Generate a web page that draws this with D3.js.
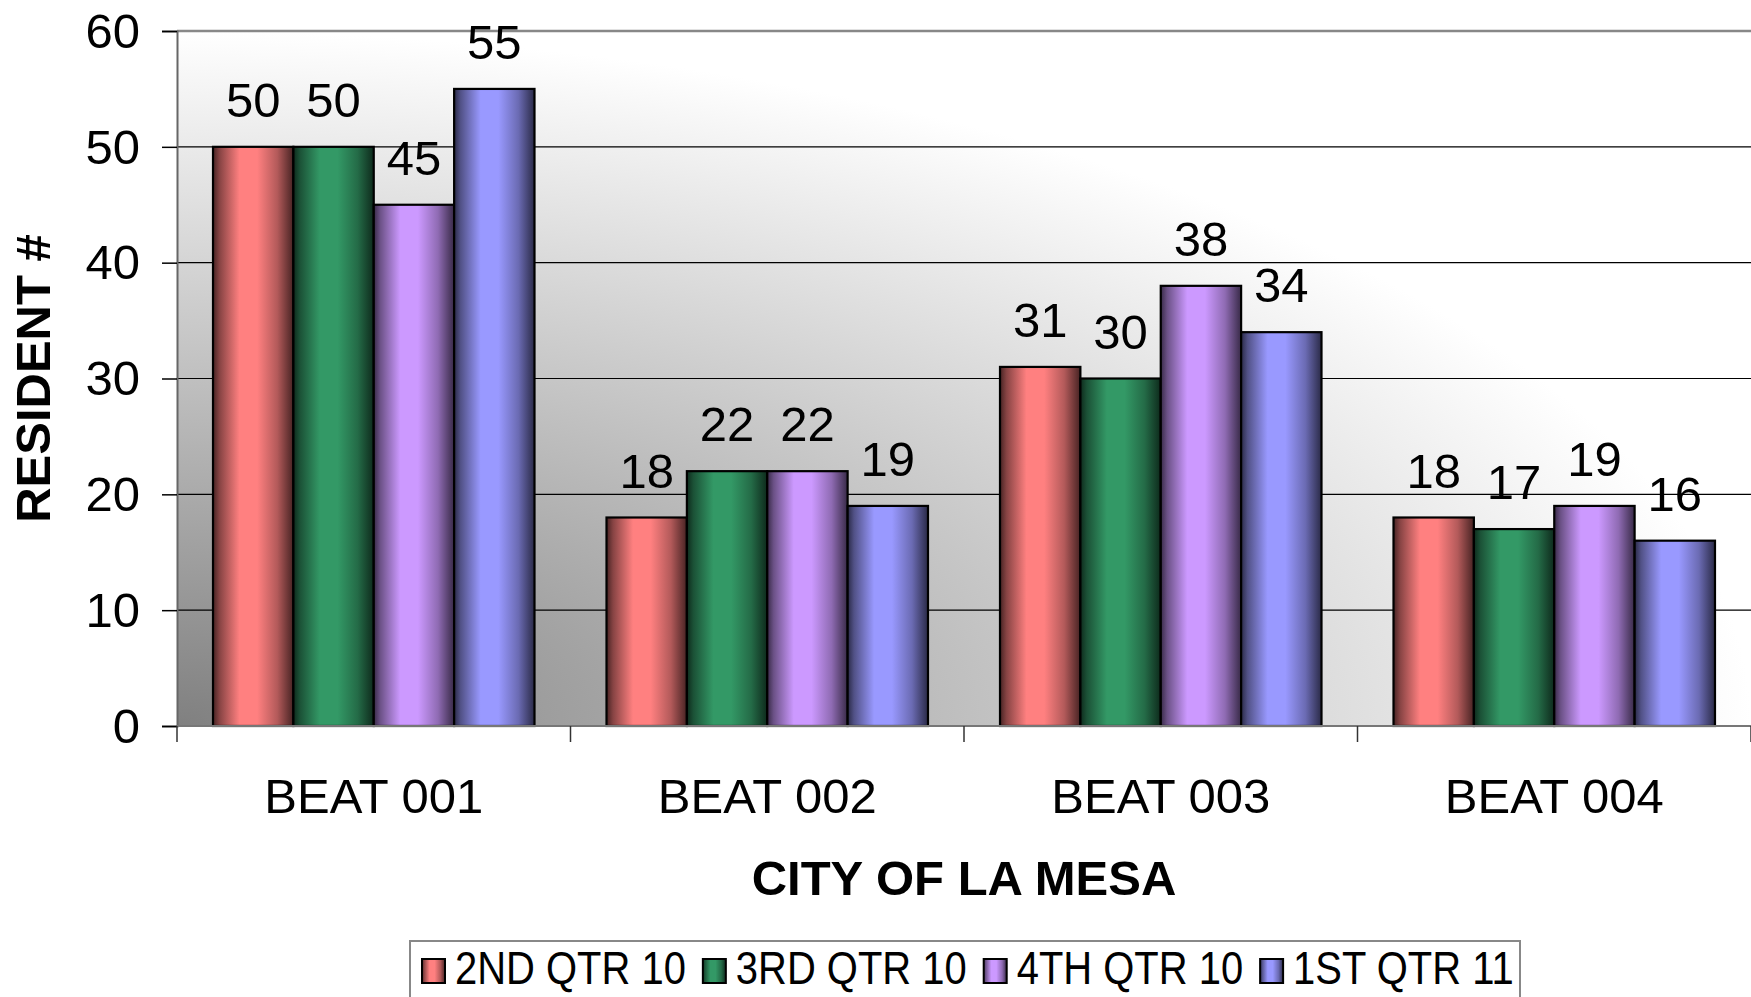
<!DOCTYPE html>
<html>
<head>
<meta charset="utf-8">
<script src="https://cdn.jsdelivr.net/npm/d3@7"></script>
<style>
  html, body { margin: 0; padding: 0; background: #fff; }
  svg { display: block; font-family: "Liberation Sans", Arial, sans-serif; }
</style>
</head>
<body>
<div id="chart"></div>
<script>
const beats = ['BEAT 001', 'BEAT 002', 'BEAT 003', 'BEAT 004'];
const quarters = ['2ND QTR 10', '3RD QTR 10', '4TH QTR 10', '1ST QTR 11'];
const qtr2_10 = [50, 18, 31, 18];
const qtr3_10 = [50, 22, 30, 17];
const qtr4_10 = [45, 22, 38, 19];
const qtr1_11 = [55, 19, 34, 16];
const yTicks = [0, 10, 20, 30, 40, 50, 60];
const colors = ['#ff8080', '#339966', '#cc99ff', '#9999ff'];

const series = [qtr2_10, qtr3_10, qtr4_10, qtr1_11];

const width = 1751, height = 997;
const margin = { top: 31, right: 0, bottom: 271, left: 177 };

const svg = d3.select('#chart').append('svg')
  .attr('width', width)
  .attr('height', height);

const defs = svg.append('defs');

// plot background: dark in bottom-left corner fading to white
const bg = defs.append('radialGradient')
  .attr('id', 'bg')
  .attr('cx', 0).attr('cy', 1).attr('r', 1)
  .attr('fx', 0).attr('fy', 1);
bg.append('stop').attr('offset', '0%').attr('stop-color', '#808080');
bg.append('stop').attr('offset', '100%').attr('stop-color', '#ffffff');

colors.forEach((c, i) => {
  const g = defs.append('linearGradient')
    .attr('id', 'bar' + i)
    .attr('x1', 0).attr('x2', 1).attr('y1', 0).attr('y2', 0);
  const col = d3.color(c);
  [[0, col.darker(3.6)], [0.08, col.darker(1.8)], [0.33, col], [0.55, col],
   [0.8, col.darker(1)], [1, col.darker(3.6)]].forEach(s => {
    g.append('stop').attr('offset', s[0]).attr('stop-color', s[1].formatHex());
  });
});

const x0 = d3.scaleBand()
  .domain(beats)
  .range([margin.left, width - margin.right])
  .paddingInner(0.183)
  .paddingOuter(0.0915);

const x1 = d3.scaleBand()
  .domain(quarters)
  .range([0, x0.bandwidth()]);

const y = d3.scaleLinear()
  .domain([0, 60])
  .range([height - margin.bottom, margin.top]);

const plotW = width - margin.right - margin.left;
const plotH = y(0) - y(60);

svg.append('rect')
  .attr('x', margin.left).attr('y', y(60))
  .attr('width', plotW).attr('height', plotH)
  .attr('fill', 'url(#bg)');

// gridlines
svg.append('g')
  .selectAll('line')
  .data(yTicks.filter(d => d > 0 && d < 60))
  .join('line')
  .attr('x1', margin.left).attr('x2', width - margin.right)
  .attr('y1', d => y(d)).attr('y2', d => y(d))
  .attr('stroke', '#000').attr('stroke-width', 1.2);

// top border
svg.append('line')
  .attr('x1', margin.left).attr('x2', width)
  .attr('y1', y(60)).attr('y2', y(60))
  .attr('stroke', '#888').attr('stroke-width', 2.5);

// y axis
const yAxis = svg.append('g')
  .attr('transform', `translate(${margin.left},0)`)
  .call(d3.axisLeft(y).tickValues(yTicks).tickSize(15).tickPadding(22));
yAxis.select('.domain').attr('stroke', '#666').attr('stroke-width', 2);
yAxis.selectAll('.tick line').attr('stroke', '#000').attr('stroke-width', 1.5);
yAxis.selectAll('text')
  .attr('font-size', 49).attr('fill', '#000')
  .attr('font-family', '"Liberation Sans", Arial, sans-serif')
  .attr('dy', '0.33em');

// bars
const groups = svg.append('g')
  .selectAll('g')
  .data(beats)
  .join('g')
  .attr('transform', d => `translate(${x0(d)},0)`);

groups.selectAll('rect')
  .data((d, i) => series.map((s, j) => ({ q: quarters[j], v: s[i], j })))
  .join('rect')
  .attr('x', d => x1(d.q))
  .attr('y', d => y(d.v))
  .attr('width', x1.bandwidth())
  .attr('height', d => y(0) - y(d.v))
  .attr('fill', d => `url(#bar${d.j})`)
  .attr('stroke', '#000')
  .attr('stroke-width', 2.2);

groups.selectAll('text')
  .data((d, i) => series.map((s, j) => ({ q: quarters[j], v: s[i], j })))
  .join('text')
  .attr('x', d => x1(d.q) + x1.bandwidth() / 2)
  .attr('y', d => y(d.v) - 30)
  .attr('text-anchor', 'middle')
  .attr('font-size', 49)
  .text(d => d.v);

// x axis
const xAxis = svg.append('g')
  .attr('transform', `translate(0,${y(0)})`);
xAxis.append('line')
  .attr('x1', margin.left).attr('x2', width)
  .attr('y1', 0).attr('y2', 0)
  .attr('stroke', '#777').attr('stroke-width', 2);
const step = x0.step();
xAxis.selectAll('.xt')
  .data(d3.range(beats.length + 1))
  .join('line')
  .attr('class', 'xt')
  .attr('x1', i => margin.left + i * step).attr('x2', i => margin.left + i * step)
  .attr('y1', 0).attr('y2', 16)
  .attr('stroke', '#333').attr('stroke-width', 1.5);
xAxis.selectAll('.xl')
  .data(beats)
  .join('text')
  .attr('class', 'xl')
  .attr('x', d => x0(d) + x0.bandwidth() / 2)
  .attr('y', 87)
  .attr('text-anchor', 'middle')
  .attr('font-size', 49)
  .text(d => d);

// axis titles
svg.append('text')
  .attr('x', margin.left + plotW / 2)
  .attr('y', 895)
  .attr('text-anchor', 'middle')
  .attr('font-size', 49)
  .attr('font-weight', 'bold')
  .text('CITY OF LA MESA');

svg.append('text')
  .attr('transform', `translate(50,${margin.top + plotH / 2}) rotate(-90)`)
  .attr('text-anchor', 'middle')
  .attr('font-size', 49)
  .attr('font-weight', 'bold')
  .text('RESIDENT #');

// legend
const legend = svg.append('g');
legend.append('rect')
  .attr('x', 410).attr('y', 941)
  .attr('width', 1110).attr('height', 80)
  .attr('fill', '#fff')
  .attr('stroke', '#888').attr('stroke-width', 2);

const squeeze = 0.85;
let lx = 422;
quarters.forEach((q, i) => {
  legend.append('rect')
    .attr('x', lx).attr('y', 959)
    .attr('width', 23).attr('height', 24)
    .attr('fill', `url(#bar${i})`)
    .attr('stroke', '#000').attr('stroke-width', 2);
  const t = legend.append('text')
    .attr('transform', `translate(${lx + 33},984) scale(${squeeze},1)`)
    .attr('font-size', 47)
    .text(q);
  const w = t.node().getComputedTextLength() * squeeze;
  lx += 33 + w + 17;
});
</script>
</body>
</html>
